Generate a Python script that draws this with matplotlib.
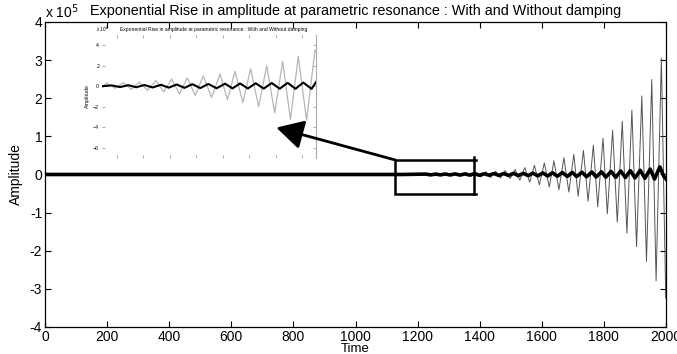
import matplotlib
matplotlib.use("Agg")
import matplotlib.pyplot as plt
from matplotlib.patches import Rectangle
import numpy as np

plt.rcParams['font.family'] = ['Liberation Sans', 'DejaVu Sans']

title = "Exponential Rise in amplitude at parametric resonance : With and Without damping"

# main plot, undamped response (x 1e5): alternating extrema
undamped_t = [0, 1215,
              1231, 1247, 1263, 1278, 1294, 1310, 1325, 1341, 1357, 1372,
              1388, 1404, 1420, 1435, 1451, 1467, 1482, 1498, 1514, 1529,
              1545, 1561, 1576, 1592, 1608, 1624, 1639, 1655, 1671, 1687,
              1703, 1717, 1734, 1749, 1766, 1780, 1797, 1811, 1828, 1843,
              1859, 1874, 1890, 1905, 1922, 1937, 1954, 1968, 1985, 1999]
undamped_a = [0, 0,
              0.02, -0.02, 0.025, -0.025, 0.03, -0.03, 0.035, -0.04, 0.045, -0.05,
              0.06, -0.065, 0.07, -0.08, 0.085, -0.09, 0.10, -0.11, 0.13, -0.15,
              0.18, -0.20, 0.24, -0.27, 0.30, -0.33, 0.36, -0.40, 0.44, -0.46,
              0.53, -0.57, 0.63, -0.70, 0.77, -0.85, 0.95, -1.03, 1.16, -1.25,
              1.39, -1.54, 1.69, -1.89, 2.06, -2.28, 2.49, -2.79, 3.05, -3.24]

# main plot, damped response (x 1e5)
damped_t = [0, 1150,
            1226, 1242, 1258, 1273, 1289, 1305, 1320, 1336, 1352, 1367,
            1383, 1399, 1415, 1430, 1446, 1462, 1477, 1493, 1509, 1524,
            1540, 1556, 1571, 1587, 1603, 1619, 1634, 1650, 1666, 1682,
            1698, 1712, 1729, 1744, 1761, 1775, 1792, 1806, 1823, 1838,
            1854, 1869, 1885, 1900, 1917, 1932, 1949, 1963, 1980, 1993, 2000]
damped_a = [0, 0,
            0.01, -0.01, 0.01, -0.01, 0.012, -0.012, 0.015, -0.015, 0.015, -0.015,
            0.02, -0.02, 0.02, -0.02, 0.025, -0.025, 0.025, -0.025, 0.03, -0.03,
            0.03, -0.03, 0.035, -0.035, 0.04, -0.04, 0.045, -0.045, 0.05, -0.05,
            0.055, -0.055, 0.06, -0.06, 0.065, -0.065, 0.07, -0.07, 0.08, -0.075,
            0.09, -0.08, 0.10, -0.09, 0.11, -0.10, 0.14, -0.12, 0.20, -0.05, -0.12]

# inset (x 1e4)
inset_gray_t = [1130, 1135.6, 1145.5, 1155.4, 1164.9, 1174.4, 1184.3, 1194.3, 1203.6,
                1213.0, 1222.3, 1231.6, 1241.1, 1250.7, 1260.6, 1270.6, 1279.5,
                1288.5, 1297.8, 1307.2, 1316.7, 1326.3, 1335.8, 1345.3, 1354.6,
                1363.9, 1373.8, 1383.8, 1385]
inset_gray_a = [-0.1, 0.3, -0.2, 0.35, -0.3, 0.4, -0.4, 0.55, -0.55,
                0.7, -0.75, 0.8, -0.9, 1.0, -1.1, 1.2, -1.3,
                1.45, -1.6, 1.7, -2.0, 2.0, -2.6, 2.4, -3.25,
                2.9, -3.3, 3.5, 3.4]
inset_black_t = [1130, 1141.6, 1151.5, 1161.4, 1170.9, 1180.4, 1190.3, 1200.3, 1209.6,
                 1219.0, 1228.3, 1237.6, 1247.1, 1256.7, 1266.6, 1276.6, 1285.5,
                 1294.5, 1303.8, 1313.2, 1322.7, 1332.3, 1341.8, 1351.3, 1360.6,
                 1369.9, 1379.8, 1385]
inset_black_a = [0, 0.08, -0.08, 0.1, -0.1, 0.12, -0.12, 0.14, -0.14,
                 0.17, -0.16, 0.2, -0.18, 0.22, -0.2, 0.25, -0.21,
                 0.27, -0.22, 0.29, -0.23, 0.31, -0.24, 0.33, -0.25,
                 0.36, -0.26, 0.4]

fig = plt.figure(figsize=(6.77, 3.54), dpi=100)
fig.patch.set_facecolor('white')

# inset first, main axes drawn over it (transparent) so the arrow stays on top
ax_in = fig.add_axes([0.1507, 0.5537, 0.316, 0.3475], zorder=1)
ax_in.plot(inset_gray_t, inset_gray_a, color='#b5b5b5', lw=0.9)
ax_in.plot(inset_black_t, inset_black_a, color='black', lw=1.5)
ax_in.set_xlim(1130, 1385)
ax_in.set_ylim(-7, 5)
ax_in.set_yticks([-6, -4, -2, 0, 2, 4])
ax_in.set_xticks(np.arange(1147.5, 1385, 31.6))
ax_in.tick_params(direction='in', length=2, width=0.5, color='#888888', labelsize=3.8,
                  top=True, right=True, labelbottom=False, pad=2)
for s in ['left', 'top', 'bottom']:
    ax_in.spines[s].set_visible(False)
ax_in.spines['right'].set_color('#aaaaaa')
ax_in.spines['right'].set_linewidth(0.8)
ax_in.set_title(title, fontsize=3.6, pad=3, x=0.52)
ax_in.set_ylabel("Amplitude", fontsize=3.8, labelpad=2)
ax_in.text(-0.03, 1.025, "x 10$^4$", transform=ax_in.transAxes, fontsize=3.3)

ax = fig.add_axes([0.0665, 0.0763, 0.9173, 0.8616], zorder=2)
ax.patch.set_visible(False)
ax.plot(undamped_t, np.array(undamped_a) * 1e5, color='#555555', lw=0.7)
ax.plot(damped_t, np.array(damped_a) * 1e5, color='black', lw=2.6)
ax.set_xlim(0, 2000)
ax.set_ylim(-4e5, 4e5)
ax.set_xticks(np.arange(0, 2001, 200))
ax.set_yticks(np.arange(-4e5, 4.1e5, 1e5))
ax.set_yticklabels([str(v) for v in range(-4, 5)])
ax.tick_params(direction='in', length=4, width=0.8, labelsize=10, top=True, right=True,
               pad=2)
for s in ax.spines.values():
    s.set_linewidth(0.9)
ax.set_title(title, fontsize=10.4, pad=5)
ax.set_xlabel("Time", fontsize=9.5, labelpad=-0.5)
ax.set_ylabel("Amplitude", fontsize=10, labelpad=5)
ax.text(0.0, 1.012, "x 10$^5$", transform=ax.transAxes, fontsize=10)

# zoom box and arrow to the inset
ax.add_patch(Rectangle((1128, -0.5e5), 1380 - 1128, 0.88e5, fill=False, lw=1.8,
                       edgecolor='black'))
ax.plot([1380, 1387], [0.38e5, 0.38e5], color='black', lw=1.8)
ax.plot([1380, 1387], [-0.5e5, -0.5e5], color='black', lw=1.8)
ax.plot([1380, 1380], [0.38e5, 0.47e5], color='black', lw=1.8)
ax.annotate('', xy=(745, 1.23e5), xytext=(1128, 0.38e5),
            arrowprops=dict(arrowstyle='-|>,head_length=0.55,head_width=0.3',
                            lw=2, color='black', mutation_scale=30,
                            shrinkA=0, shrinkB=0))

fig.savefig("out.png", dpi=100)
